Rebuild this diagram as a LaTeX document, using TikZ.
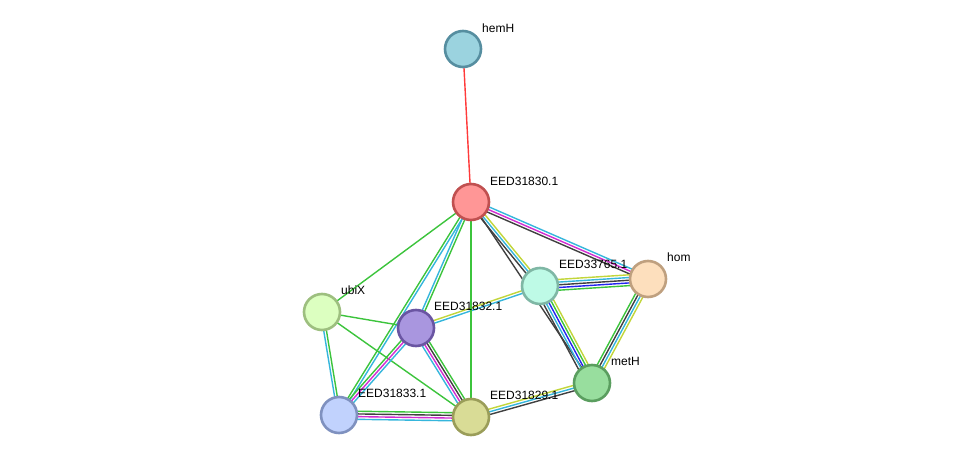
\documentclass[tikz,border=0pt]{standalone}
\usepackage{fontspec}
\setmainfont{Liberation Sans}
\usetikzlibrary{calc,backgrounds}
\definecolor{eg}{HTML}{3CC43C}
\definecolor{ek}{HTML}{404040}
\definecolor{ec}{HTML}{35B6DC}
\definecolor{em}{HTML}{D22CD2}
\definecolor{ey}{HTML}{C2D63A}
\definecolor{eb}{HTML}{2424F0}
\definecolor{er}{HTML}{FF3A3A}
\tikzset{
  prot/.style={circle, minimum size=36pt, inner sep=0pt, line width=2.6pt},
  lbl/.style={anchor=west, font=\fontsize{12}{13}\selectfont, inner sep=0pt},
  eline/.style={line width=1.4pt}
}
\newcommand\medge[4]{%
  \foreach \cc [count=\ii] in {#4} {%
    \pgfmathsetmacro\off{(\ii-(#3+1)/2)*2.7}%
    \draw[eline, \cc] ($(#1)!\off pt!90:(#2)$) -- ($(#2)!\off pt!-90:(#1)$);%
  }}
\begin{document}
\begin{tikzpicture}[x=1pt,y=-1pt]
\useasboundingbox (0,0) rectangle (976,462);
% nodes
\node[prot, draw={rgb,255:red,86;green,142;blue,160}, fill={rgb,255:red,155;green,211;blue,223}] (hemH) at (463,49) {};
\node[prot, draw={rgb,255:red,192;green,80;blue,80}, fill={rgb,255:red,255;green,150;blue,150}] (e30) at (471,202) {};
\node[prot, draw={rgb,255:red,127;green,183;blue,165}, fill={rgb,255:red,190;green,250;blue,230}] (e65) at (540,286) {};
\node[prot, draw={rgb,255:red,191;green,160;blue,127}, fill={rgb,255:red,253;green,223;blue,189}] (hom) at (648,279) {};
\node[prot, draw={rgb,255:red,157;green,191;blue,127}, fill={rgb,255:red,220;green,255;blue,192}] (ubiX) at (322,312) {};
\node[prot, draw={rgb,255:red,106;green,85;blue,162}, fill={rgb,255:red,169;green,150;blue,223}] (e32) at (416,328) {};
\node[prot, draw={rgb,255:red,90;green,158;blue,95}, fill={rgb,255:red,152;green,222;blue,158}] (metH) at (592,383) {};
\node[prot, draw={rgb,255:red,127;green,145;blue,191}, fill={rgb,255:red,193;green,210;blue,253}] (e33) at (339,415) {};
\node[prot, draw={rgb,255:red,154;green,157;blue,89}, fill={rgb,255:red,217;green,220;blue,150}] (e29) at (471,417) {};
% edges
\begin{scope}[on background layer]
\fill[white] (0,0) rectangle (976,462);
\medge{hemH}{e30}{1}{er}
\medge{e30}{hom}{3}{ek,em,ec}
\medge{e30}{e65}{3}{ek,ec,ey}
\medge{e30}{metH}{1}{ek}
\medge{e65}{hom}{5}{eg,eb,ek,ec,ey}
\medge{e65}{metH}{5}{ek,ec,eb,eg,ey}
\medge{hom}{metH}{4}{eg,ek,ec,ey}
\medge{e65}{e32}{2}{ey,ec}
\medge{e29}{metH}{3}{ek,ec,ey}
\medge{e30}{e32}{2}{ec,eg}
\medge{e30}{e33}{2}{eg,ec}
\medge{e30}{ubiX}{1}{eg}
\medge{e30}{e29}{1}{eg}
\medge{ubiX}{e32}{1}{eg}
\medge{ubiX}{e33}{2}{ec,eg}
\medge{ubiX}{e29}{1}{eg}
\medge{e32}{e33}{3}{eg,em,ec}
\medge{e32}{e29}{4}{ec,em,ek,eg}
\medge{e33}{e29}{4}{ec,em,ek,eg}
\end{scope}
% labels
\node[lbl] (l1) at (482,28) {hemH};
\node[lbl] (l2) at (490,181) {EED31830.1};
\node[lbl] (l3) at (559,264) {EED33765.1};
\node[lbl] (l4) at (667,257) {hom};
\node[lbl] (l5) at (341,290) {ubiX};
\node[lbl] (l6) at (434,306) {EED31832.1};
\node[lbl] (l7) at (611,361) {metH};
\node[lbl] (l8) at (358,393) {EED31833.1};
\node[lbl] (l9) at (490,395) {EED31829.1};
\end{tikzpicture}
\end{document}
